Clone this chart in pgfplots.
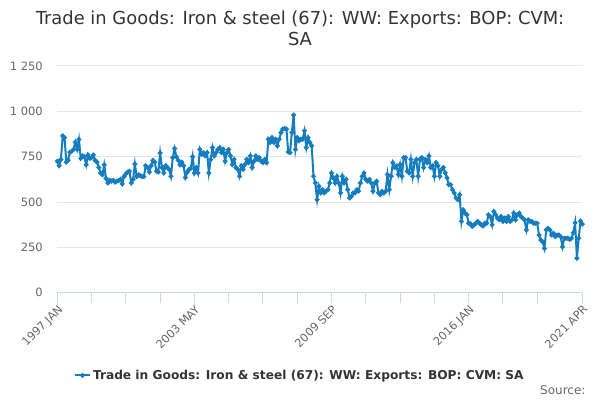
\documentclass[border=0pt]{standalone}
\usepackage{pgfplots}
\usepackage{pgfplotstable}
\pgfplotsset{compat=1.18}
\usepackage{fontspec}
\setmainfont{DejaVu Sans}
\definecolor{series}{RGB}{20,125,192}
\definecolor{titlec}{HTML}{333333}
\definecolor{labc}{HTML}{666666}
\definecolor{axisc}{HTML}{CCD6EB}
\definecolor{gridc}{HTML}{E6E6E6}
\pgfplotstableread[row sep=\\]{v\\
725\\700\\735\\865\\855\\720\\730\\775\\780\\790\\
830\\790\\845\\740\\755\\750\\705\\760\\740\\745\\
760\\730\\720\\690\\660\\650\\705\\630\\605\\620\\
615\\620\\610\\615\\618\\625\\600\\640\\655\\665\\
670\\605\\625\\710\\640\\650\\645\\640\\640\\700\\
690\\665\\700\\730\\720\\670\\665\\770\\690\\660\\
700\\690\\680\\642\\745\\795\\750\\730\\705\\720\\
700\\635\\665\\680\\685\\750\\660\\690\\660\\790\\
763\\772\\754\\772\\660\\735\\800\\754\\772\\790\\
800\\772\\790\\725\\772\\790\\754\\707\\735\\690\\
680\\642\\700\\680\\707\\735\\717\\754\\690\\725\\
754\\735\\745\\725\\717\\735\\717\\846\\828\\855\\
828\\846\\810\\846\\883\\902\\905\\902\\776\\772\\
883\\980\\790\\855\\837\\846\\846\\893\\800\\855\\
828\\810\\642\\605\\513\\587\\550\\568\\550\\560\\
568\\605\\660\\633\\605\\642\\605\\550\\642\\605\\
625\\568\\522\\531\\550\\550\\568\\560\\605\\642\\
660\\625\\615\\625\\605\\560\\605\\615\\550\\540\\
559\\550\\560\\652\\568\\642\\717\\690\\700\\652\\
707\\642\\745\\745\\670\\660\\735\\642\\717\\735\\
642\\735\\745\\690\\735\\717\\754\\690\\700\\642\\
717\\700\\642\\680\\690\\661\\633\\596\\596\\568\\
550\\522\\513\\540\\393\\457\\439\\430\\383\\380\\
365\\374\\383\\393\\383\\374\\368\\383\\383\\430\\
420\\374\\448\\430\\411\\402\\420\\393\\411\\393\\
420\\393\\402\\439\\402\\430\\439\\420\\411\\402\\
346\\402\\393\\393\\383\\383\\383\\318\\291\\281\\
244\\346\\355\\346\\318\\328\\309\\318\\318\\309\\
253\\300\\300\\300\\294\\300\\330\\385\\190\\300\\
395\\378\\
}\data
\begin{document}
\begin{tikzpicture}[x=1bp,y=1bp]
\path[use as bounding box] (0,0) rectangle (600,400);
\node[font=\fontsize{17.9bp}{21bp}\selectfont, text=titlec, align=center, anchor=base] at (300,355) {Trade in Goods: Iron \& steel (67): WW: Exports: BOP: CVM:\\SA};
\begin{axis}[
  at={(57.3bp,107.3bp)}, anchor=south west, scale only axis,
  width=525bp, height=226.7bp,
  xmin=0, xmax=291, ymin=0, ymax=1250,
  axis x line*=bottom, axis y line*=left,
  x axis line style={color=axisc, line width=1bp, -},
  y axis line style={draw=none, -},
  ytick={0,250,500,750,1000,1250},
  yticklabels={0,250,500,750,1 000,1 250},
  xtick={0,76,152,228,291},
  xticklabels={1997 JAN,2003 MAY,2009 SEP,2016 JAN,2021 APR},
  extra x ticks={19,38,57,95,114,133,171,190,209,247,266},
  extra x tick labels={},
  extra x tick style={xtick style={color=axisc, line width=1bp}},
  tick align=outside,
  xtick style={color=axisc, line width=1bp},
  ytick style={draw=none},
  major tick length=10bp,
  ymajorgrids, grid style={color=gridc, line width=1bp},
  yticklabel style={font=\fontsize{11.5bp}{13bp}\selectfont, text=labc, anchor=east, xshift=-1bp},
  xticklabel style={font=\fontsize{11.3bp}{13bp}\selectfont, text=labc, rotate=45, anchor=north east, inner sep=1bp},
  legend style={at={(0.462,-0.365)}, anchor=center, draw=none, fill=none,
    font=\bfseries\fontsize{12.2bp}{14bp}\selectfont, text=titlec},
  legend image code/.code={\draw[#1, mark repeat=2, mark phase=2] plot coordinates {(0bp,0bp) (7.5bp,0bp) (15bp,0bp)};},
  clip=false,
]
\addplot[color=series, line width=2bp, mark=*, mark size=1.3bp, mark options={solid}] table[x expr=\coordindex, y=v] {\data};
\addlegendentry{Trade in Goods: Iron \& steel (67): WW: Exports: BOP: CVM: SA}
\end{axis}
\node[anchor=base east, font=\fontsize{12bp}{14bp}\selectfont, text=labc] at (589,6) {Source:};
\end{tikzpicture}
\end{document}
